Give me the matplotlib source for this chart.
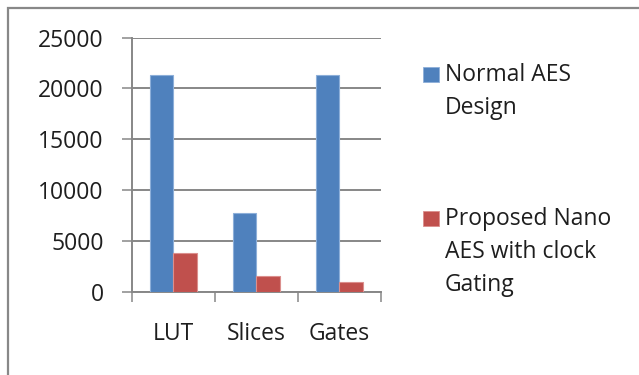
import matplotlib
matplotlib.use("Agg")
import matplotlib.pyplot as plt
from matplotlib.patches import Rectangle
import numpy as np

categories = ["LUT", "Slices", "Gates"]
series_names = ["Normal AES\nDesign", "Proposed Nano\nAES with clock\nGating"]
normal_aes = [21300, 7750, 21300]
nano_aes = [3850, 1550, 930]
y_ticks = [0, 5000, 10000, 15000, 20000, 25000]

colors = ["#4F81BD", "#C0504D"]
edges = ["#8DAFD9", "#DB8F8D"]
grid_col = "#878787"
text_col = "#1E1E1E"

plt.rcParams["font.family"] = ["Open Sans", "DejaVu Sans"]
fs = 16.5

fig = plt.figure(figsize=(6.39, 3.75), dpi=100)
ax = fig.add_axes([131.7 / 639, 1 - 291.7 / 375, (380.7 - 131.7) / 639, (291.7 - 37.7) / 375])

x = np.arange(len(categories))
w = 0.283
bars = []
for i, (vals, c, e) in enumerate(zip([normal_aes, nano_aes], colors, edges)):
    b = ax.bar(x + (i - 0.5) * w, vals, width=w, color=c, edgecolor=e, linewidth=0.8, zorder=3)
    bars.append(b)

ax.set_xlim(-0.5, len(categories) - 0.5)
ax.set_ylim(0, 25000)
ax.set_yticks(y_ticks)
ax.set_yticklabels([str(v) for v in y_ticks])
ax.yaxis.grid(True, color=grid_col, linewidth=1.4, zorder=0)
ax.set_axisbelow(True)

# category boundaries carry the tick marks, names sit between them
ax.set_xticks(np.arange(-0.5, len(categories), 1.0))
ax.set_xticklabels([])
ax.set_xticks(x, minor=True)
ax.set_xticklabels(categories, minor=True)

for s in ["top", "right"]:
    ax.spines[s].set_visible(False)
for s in ["left", "bottom"]:
    ax.spines[s].set_color(grid_col)
    ax.spines[s].set_linewidth(1.4)

ax.tick_params(axis="y", which="major", length=7.2, width=1.1, color=grid_col,
               labelsize=fs, labelcolor=text_col, pad=13)
ax.tick_params(axis="x", which="major", length=7.2, width=1.1, color=grid_col)
ax.tick_params(axis="x", which="minor", length=0, labelsize=fs, labelcolor=text_col, pad=22)

# legend entries: swatch next to the first line of each name
entry_tops = [66.7, 211.0]
for name, b, top in zip(series_names, bars, entry_tops):
    col = b.patches[0].get_facecolor()
    fig.patches.append(Rectangle((422.5 / 639, 1 - (top + 15) / 375), 16 / 639, 15 / 375,
                                 transform=fig.transFigure, facecolor=col,
                                 edgecolor=b.patches[0].get_edgecolor(), linewidth=0.6))
    fig.text(445 / 639, 1 - (top - 4) / 375, name, fontsize=fs, color=text_col,
             ha="left", va="top", linespacing=1.5)

# outer chart frame
fig.patches.append(Rectangle((7.5 / 639, -0.1), 1.2, (1 - 7.5 / 375) + 0.1,
                             transform=fig.transFigure, fill=False,
                             edgecolor="#888888", linewidth=1.6))

fig.savefig("out.png", dpi=100)
